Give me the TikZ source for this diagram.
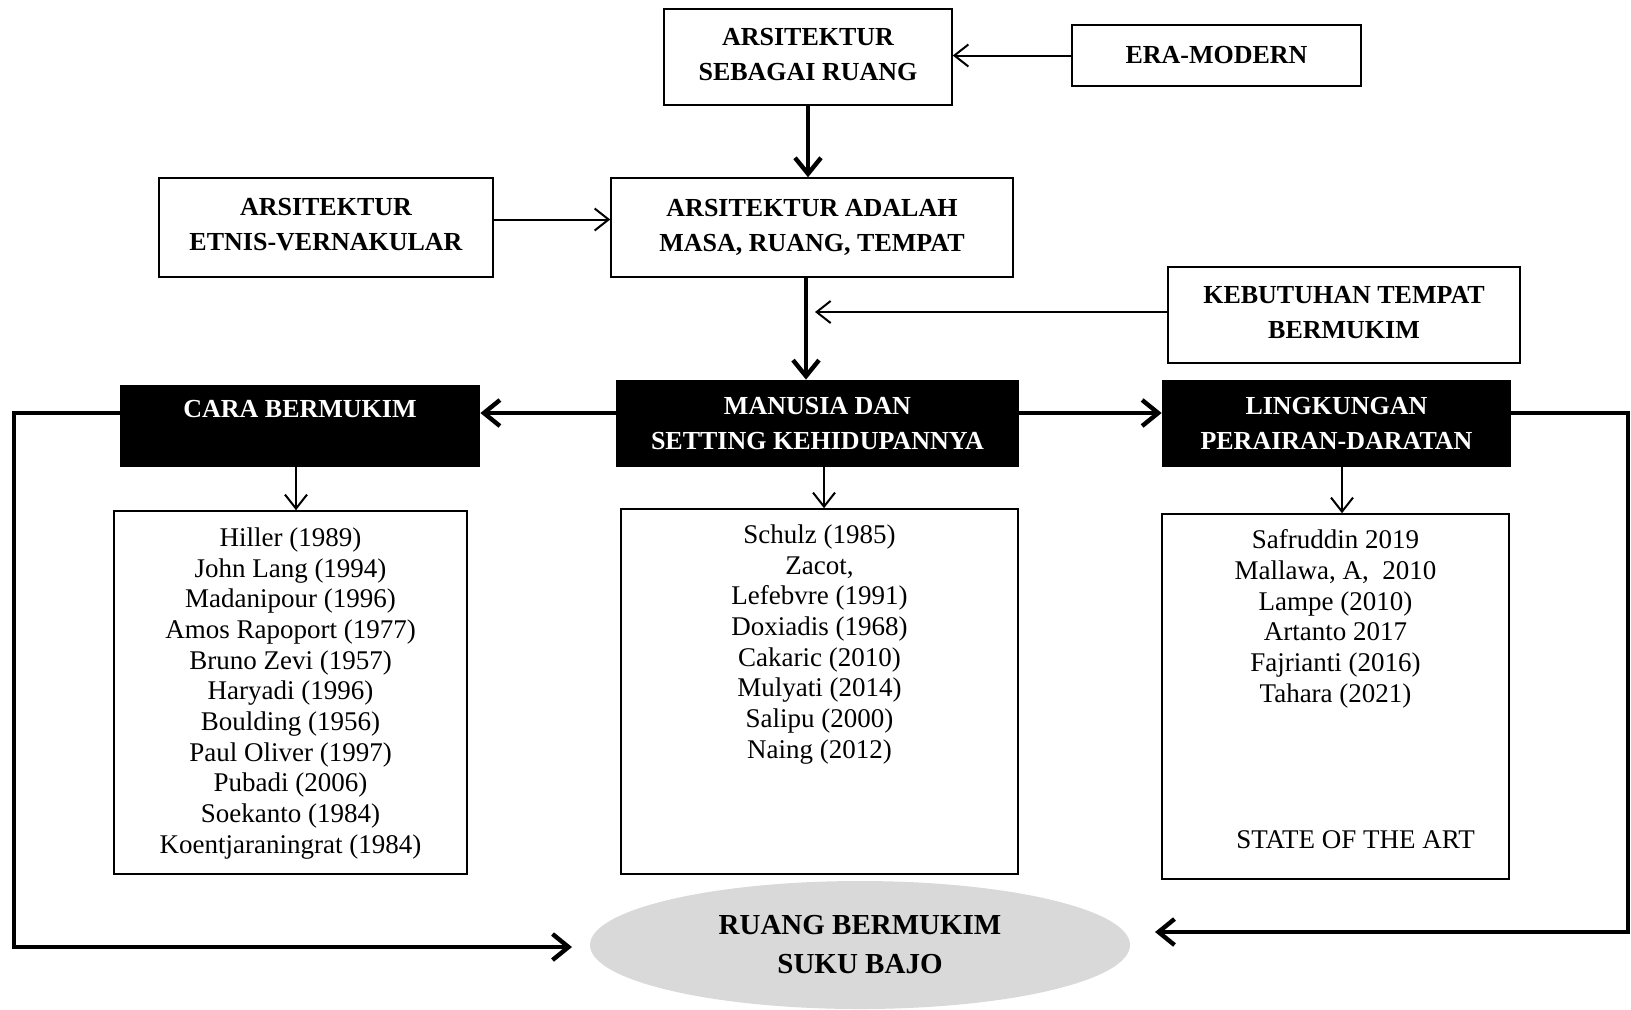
\documentclass[tikz,border=0pt]{standalone}
\usepackage{fontspec}
\setmainfont{Liberation Serif}
\usetikzlibrary{arrows.meta,shapes.geometric}
\definecolor{ellgray}{HTML}{D9D9D9}
\newcommand{\boxfnt}{\fontsize{13}{17.5}\selectfont\bfseries}
\newcommand{\lstfnt}{\fontsize{13.5}{15.35}\selectfont}
\newcommand{\lsttext}[4]{\parbox[c][#2][t]{#1}{\centering\vspace*{#3}#4}}
\begin{document}
\begin{tikzpicture}[x=0.5pt,y=-0.5pt,
  box/.style={draw, line width=0.75pt, inner sep=0pt, align=center, font=\boxfnt},
  blackbox/.style={fill=black, text=white, inner sep=0pt, align=center, font=\boxfnt},
  lstbox/.style={draw, line width=0.8pt, inner sep=0pt, font=\lstfnt},
  thinarrow/.style={line width=1pt, -{Straight Barb[length=7pt,width=11pt]}},
  thickarrow/.style={line width=2.2pt, line join=miter, -{Straight Barb[length=8pt,width=13pt]}}]
\useasboundingbox (0,0) rectangle (1631,1009);

\node[box, minimum width=144pt, minimum height=48pt] (A) at (808,57) {ARSITEKTUR\\SEBAGAI RUANG\rule[-3pt]{0pt}{0pt}};
\node[box, minimum width=144.5pt, minimum height=30.5pt] (ERA) at (1216.5,55.5) {ERA-MODERN};
\node[box, minimum width=167pt, minimum height=49.5pt] (B) at (326,227.5) {ARSITEKTUR\\ETNIS-VERNAKULAR\rule[-3pt]{0pt}{0pt}};
\node[box, minimum width=201pt, minimum height=49.5pt] (C) at (812,227.5) {ARSITEKTUR ADALAH\\MASA, RUANG, TEMPAT\rule[-2pt]{0pt}{0pt}};
\node[box, minimum width=176pt, minimum height=48pt] (D) at (1344,315) {KEBUTUHAN TEMPAT\\BERMUKIM\rule[-3pt]{0pt}{0pt}};

\node[blackbox, minimum width=201.5pt, minimum height=43.5pt] (E) at (817.5,423.5) {MANUSIA DAN\\SETTING KEHIDUPANNYA};
\node[blackbox, minimum width=180pt, minimum height=41pt] (F) at (300,426) {CARA BERMUKIM\\~};
\node[blackbox, minimum width=174.5pt, minimum height=43.5pt] (G) at (1336.5,423.5) {LINGKUNGAN\\PERAIRAN-DARATAN};

\node[lstbox] (H) at (290.5,692.5) {\lsttext{176.5pt}{181.5pt}{8.3pt}{Hiller (1989)\\John Lang (1994)\\Madanipour (1996)\\Amos Rapoport (1977)\\Bruno Zevi (1957)\\Haryadi (1996)\\Boulding (1956)\\Paul Oliver (1997)\\Pubadi (2006)\\Soekanto (1984)\\Koentjaraningrat (1984)}};
\node[lstbox] (I) at (819.5,691.5) {\lsttext{198.5pt}{182.5pt}{7.8pt}{Schulz (1985)\\Zacot,\\Lefebvre (1991)\\Doxiadis (1968)\\Cakaric (2010)\\Mulyati (2014)\\Salipu (2000)\\Naing (2012)}};
\node[lstbox] (J) at (1335.5,696.5) {\lsttext{173.5pt}{182.5pt}{7.8pt}{Safruddin 2019\\Mallawa, A,~~2010\\Lampe (2010)\\Artanto 2017\\Fajrianti (2016)\\Tahara (2021)\\[57.6pt]\hspace*{20pt}STATE OF THE ART}};

\node[ellipse, fill=ellgray, minimum width=270pt, minimum height=64pt, inner sep=0pt, align=center, font={\fontsize{14.5}{19.5}\selectfont\bfseries}] (K) at (860,945) {RUANG BERMUKIM\\SUKU BAJO};

\draw[thinarrow] (ERA.west) -- (ERA.west -| A.east);
\draw[thickarrow] (A.south) -- (A.south |- C.north);
\draw[thinarrow] ([yshift=4pt]B.east) -- ([yshift=4pt]B.east -| C.west);
\coordinate (cx) at (806,0);
\draw[thickarrow] (C.south -| cx) -- (E.north -| cx);
\coordinate (dj) at (815,312);
\draw[thinarrow] (D.west |- dj) -- (dj);
\coordinate (ey) at (0,413);
\draw[thickarrow] (E.west |- ey) -- (F.east |- ey);
\draw[thickarrow] (E.east |- ey) -- (G.west |- ey);
\coordinate (fh) at (296,0);
\draw[thinarrow] (F.south -| fh) -- (H.north -| fh);
\coordinate (ei) at (824,0);
\draw[thinarrow] (E.south -| ei) -- (I.north -| ei);
\coordinate (gj) at (1342,0);
\draw[thinarrow] (G.south -| gj) -- (J.north -| gj);
\coordinate (lc) at (14,947);
\coordinate (kl) at (572,947);
\coordinate (rc) at (1628,932);
\coordinate (kr) at (1155,932);
\draw[thickarrow] (F.west |- ey) -| (lc) -- (kl);
\draw[thickarrow] (G.east |- ey) -| (rc) -- (kr);
\end{tikzpicture}
\end{document}
